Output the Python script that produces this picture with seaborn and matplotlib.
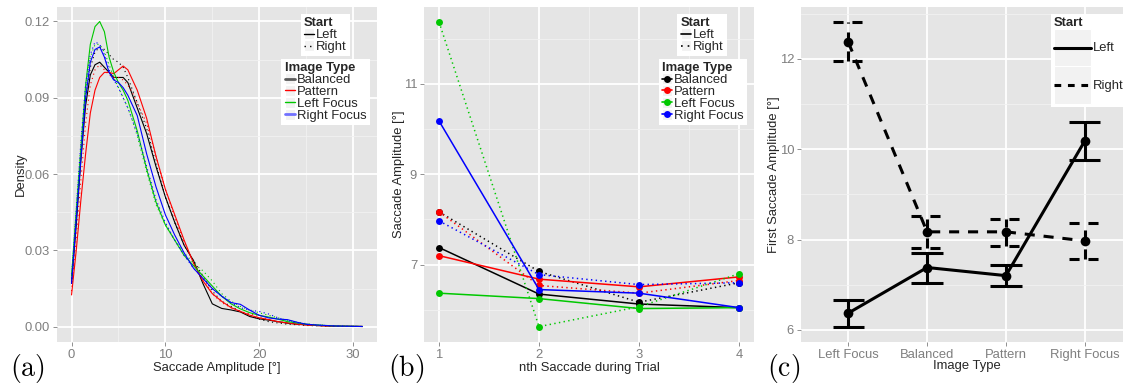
import numpy as np
import pandas as pd
import matplotlib
matplotlib.use("Agg")
import matplotlib.pyplot as plt
import seaborn as sns
from matplotlib.lines import Line2D
from matplotlib.patches import Rectangle
from matplotlib.legend_handler import HandlerTuple, HandlerLine2D

# ---------------- data ----------------
image_types = ["Balanced", "Pattern", "Left Focus", "Right Focus"]
starts = ["Left", "Right"]
palette = {"Balanced": "#000000", "Pattern": "#FF0000",
           "Left Focus": "#00C800", "Right Focus": "#0000FF"}

# (a) density of saccade amplitude, sampled along the amplitude axis
amp_grid = [0, 0.5, 1, 1.5, 2, 2.5, 3, 3.5, 4, 4.5, 5, 5.5, 6, 6.5, 7,
            8, 9, 10, 11, 12, 13, 14, 15, 16, 17, 18, 19, 20, 21, 22, 23, 24, 25, 26,
            28, 31]

dens_balanced_left = [0.017, 0.040, 0.066, 0.087, 0.099, 0.103, 0.104, 0.102, 0.100, 0.098, 0.098, 0.098, 0.096, 0.091, 0.086,
                      0.076, 0.063, 0.051, 0.041, 0.032, 0.026, 0.017, 0.009, 0.0072, 0.0066, 0.0058, 0.0040, 0.0031, 0.0026, 0.0020, 0.0014, 0.0010, 0.0008, 0.0005,
                      0.0002, 0.0001]
dens_pattern_left = [0.0125, 0.030, 0.050, 0.068, 0.084, 0.093, 0.098, 0.100, 0.100, 0.0995, 0.101, 0.1025, 0.101, 0.097, 0.093,
                     0.082, 0.067, 0.054, 0.044, 0.034, 0.025, 0.018, 0.013, 0.010, 0.0075, 0.006, 0.0045, 0.0035, 0.0028, 0.0020, 0.0015, 0.0010, 0.0007, 0.0005,
                     0.0002, 0.0001]
dens_leftfocus_left = [0.020, 0.045, 0.070, 0.095, 0.111, 0.118, 0.120, 0.116, 0.106, 0.100, 0.096, 0.093, 0.089, 0.083, 0.077,
                       0.062, 0.049, 0.040, 0.034, 0.028, 0.024, 0.020, 0.016, 0.012, 0.009, 0.007, 0.0055, 0.0045, 0.0038, 0.0030, 0.0020, 0.0015, 0.0010, 0.0007,
                       0.0003, 0.0001]
dens_rightfocus_left = [0.017, 0.042, 0.066, 0.090, 0.104, 0.109, 0.110, 0.106, 0.100, 0.097, 0.096, 0.094, 0.091, 0.087, 0.083,
                        0.068, 0.055, 0.044, 0.036, 0.029, 0.023, 0.019, 0.015, 0.012, 0.0095, 0.0088, 0.0065, 0.0045, 0.0035, 0.0030, 0.0028, 0.0018, 0.0010, 0.0007,
                        0.0003, 0.0001]
dens_balanced_right = [0.017, 0.042, 0.068, 0.090, 0.102, 0.108, 0.110, 0.109, 0.107, 0.105, 0.104, 0.102, 0.098, 0.093, 0.088,
                       0.078, 0.064, 0.051, 0.041, 0.032, 0.026, 0.020, 0.014, 0.010, 0.008, 0.006, 0.0045, 0.0030, 0.0020, 0.0015, 0.0010, 0.0008, 0.0005, 0.0004,
                       0.0002, 0.0001]
dens_pattern_right = [0.014, 0.035, 0.058, 0.080, 0.095, 0.101, 0.103, 0.101, 0.099, 0.098, 0.098, 0.097, 0.095, 0.092, 0.088,
                      0.080, 0.067, 0.054, 0.043, 0.033, 0.025, 0.019, 0.013, 0.0095, 0.0075, 0.006, 0.005, 0.004, 0.003, 0.002, 0.0015, 0.001, 0.0007, 0.0005,
                      0.0002, 0.0001]
dens_leftfocus_right = [0.020, 0.046, 0.072, 0.093, 0.106, 0.111, 0.111, 0.108, 0.103, 0.098, 0.094, 0.090, 0.086, 0.081, 0.075,
                        0.061, 0.048, 0.040, 0.034, 0.029, 0.025, 0.022, 0.018, 0.013, 0.010, 0.008, 0.0065, 0.0055, 0.0045, 0.0035, 0.0025, 0.0018, 0.0012, 0.0008,
                        0.0003, 0.0001]
dens_rightfocus_right = [0.019, 0.046, 0.073, 0.095, 0.107, 0.112, 0.111, 0.107, 0.101, 0.097, 0.094, 0.090, 0.086, 0.081, 0.076,
                         0.063, 0.050, 0.041, 0.034, 0.028, 0.023, 0.019, 0.015, 0.012, 0.0095, 0.0075, 0.0065, 0.0060, 0.0050, 0.0035, 0.0025, 0.0015, 0.0010, 0.0007,
                         0.0003, 0.0001]

# (b) mean saccade amplitude for the nth saccade of a trial
nth = [1, 2, 3, 4]
sacc_balanced_left = [7.38, 6.35, 6.13, 6.05]
sacc_pattern_left = [7.20, 6.68, 6.51, 6.73]
sacc_leftfocus_left = [6.37, 6.25, 6.03, 6.05]
sacc_rightfocus_left = [10.18, 6.45, 6.37, 6.05]
sacc_balanced_right = [8.17, 6.85, 6.17, 6.60]
sacc_pattern_right = [8.17, 6.54, 6.37, 6.65]
sacc_leftfocus_right = [12.37, 5.63, 6.07, 6.80]
sacc_rightfocus_right = [7.97, 6.78, 6.56, 6.60]

# (c) first saccade amplitude with error bars
c_types = ["Left Focus", "Balanced", "Pattern", "Right Focus"]
first_left_lo = [6.07, 7.04, 6.97, 9.76]
first_left_hi = [6.66, 7.71, 7.44, 10.60]
first_right_lo = [11.95, 7.81, 7.86, 7.56]
first_right_hi = [12.81, 8.52, 8.45, 8.36]

# ---------------- tidy tables ----------------
dens = {("Balanced", "Left"): dens_balanced_left, ("Pattern", "Left"): dens_pattern_left,
        ("Left Focus", "Left"): dens_leftfocus_left, ("Right Focus", "Left"): dens_rightfocus_left,
        ("Balanced", "Right"): dens_balanced_right, ("Pattern", "Right"): dens_pattern_right,
        ("Left Focus", "Right"): dens_leftfocus_right, ("Right Focus", "Right"): dens_rightfocus_right}
sacc = {("Balanced", "Left"): sacc_balanced_left, ("Pattern", "Left"): sacc_pattern_left,
        ("Left Focus", "Left"): sacc_leftfocus_left, ("Right Focus", "Left"): sacc_rightfocus_left,
        ("Balanced", "Right"): sacc_balanced_right, ("Pattern", "Right"): sacc_pattern_right,
        ("Left Focus", "Right"): sacc_leftfocus_right, ("Right Focus", "Right"): sacc_rightfocus_right}

rows_a, rows_b = [], []
for (it, st), ys in dens.items():
    for x, y in zip(amp_grid, ys):
        rows_a.append({"amp": x, "density": y, "Image Type": it, "Start": st})
for (it, st), ys in sacc.items():
    for x, y in zip(nth, ys):
        rows_b.append({"nth": x, "amp": y, "Image Type": it, "Start": st})
df_a = pd.DataFrame(rows_a)
df_b = pd.DataFrame(rows_b)

rows_c = []
for st, lo, hi in [("Left", first_left_lo, first_left_hi), ("Right", first_right_lo, first_right_hi)]:
    for i, it in enumerate(c_types):
        rows_c.append({"pos": i, "Image Type": it, "Start": st,
                       "mean": sacc[(it, st)][0], "lo": lo[i], "hi": hi[i]})
df_c = pd.DataFrame(rows_c)

# ---------------- style ----------------
sns.set_theme(style="darkgrid")
plt.rcParams["font.family"] = ["Liberation Sans", "DejaVu Sans"]
plt.rcParams["mathtext.fontset"] = "cm"

FS = 9.4
PANEL_BG = "#E5E5E5"
MINOR = "#F2F2F2"
TICKC = "#7F7F7F"

W, H = 1123, 385
fig = plt.figure(figsize=(W / 100, H / 100), dpi=100)
fig.patch.set_facecolor("white")


def px_axes(left, right, top, bottom):
    return fig.add_axes([left / W, (H - bottom) / H, (right - left) / W, (bottom - top) / H])


def style_axes(ax, xmaj, xmin, ymaj, ymin):
    ax.set_facecolor(PANEL_BG)
    for s in ax.spines.values():
        s.set_visible(False)
    ax.set_xticks(xmaj)
    ax.set_yticks(ymaj)
    ax.set_xticks(xmin, minor=True)
    ax.set_yticks(ymin, minor=True)
    ax.grid(False)
    ax.grid(which="major", color="white", lw=1.3)
    ax.grid(which="minor", color=MINOR, lw=0.6)
    ax.set_axisbelow(True)
    ax.tick_params(which="major", length=3, width=0.6, color=TICKC,
                   labelcolor=TICKC, labelsize=FS, pad=2,
                   bottom=True, left=True)
    ax.tick_params(which="minor", length=0)


class CenteredLine(HandlerLine2D):
    """Legend line drawn through the middle of its key box."""

    def create_artists(self, legend, orig_handle, xdescent, ydescent,
                       width, height, fontsize, trans):
        artists = super().create_artists(legend, orig_handle, xdescent, ydescent,
                                         width, height, fontsize, trans)
        for a in artists:
            if isinstance(a, Line2D):
                a.set_ydata(np.full(len(a.get_xdata()), height / 2 - ydescent))
        return artists


def keyed(handle):
    bg = Rectangle((0, 0), 1, 1, facecolor=MINOR, edgecolor="white", lw=0.8)
    return (bg, handle)


def legend(ax, title, handles, labels, anchor, loc, hl, hh, spacing=-0.08):
    lg = ax.legend([keyed(h) for h in handles], labels, title=title,
                   handler_map={tuple: HandlerTuple(ndivide=1, pad=0),
                                Line2D: CenteredLine()},
                   loc=loc, bbox_to_anchor=anchor, bbox_transform=ax.transAxes,
                   frameon=True, fancybox=False, framealpha=1,
                   facecolor="white", edgecolor="none",
                   prop={"size": FS}, title_fontproperties={"size": FS, "weight": "bold"},
                   handlelength=hl, handleheight=hh, handletextpad=0.15,
                   labelspacing=spacing, borderpad=0.25, borderaxespad=0,
                   alignment="left")
    ax.add_artist(lg)
    return lg


# ---------------- (a) ----------------
ax_a = px_axes(57, 377, 7, 342)
sns.lineplot(data=df_a, x="amp", y="density", hue="Image Type", style="Start",
             hue_order=image_types, style_order=starts, palette=palette,
             dashes={"Left": "", "Right": (1, 3)}, lw=0.8, sort=False,
             estimator=None, legend=False, ax=ax_a)
ax_a.set_xlim(-1.55, 32.55)
ax_a.set_ylim(-0.006, 0.1257)
style_axes(ax_a, [0, 10, 20, 30], [5, 15, 25],
           [0.00, 0.03, 0.06, 0.09, 0.12], [0.015, 0.045, 0.075, 0.105])
ax_a.yaxis.set_major_formatter(matplotlib.ticker.FormatStrFormatter("%.2f"))
ax_a.set_xlabel("Saccade Amplitude [°]", fontsize=FS, labelpad=1)
ax_a.set_ylabel("Density", fontsize=FS, labelpad=-1.5)

legend(ax_a, "Start",
       [Line2D([], [], color="black", lw=1.0),
        Line2D([], [], color="black", lw=1.0, ls=(0, (1, 3)))],
       starts, (0.916, 0.979), "upper right", 0.8, 0.9)
key_cols_a = {"Balanced": ("#5A5A5A", 2.0), "Pattern": ("#FF0000", 1.0),
              "Left Focus": ("#00C800", 1.0), "Right Focus": ("#7070FF", 2.0)}
legend(ax_a, "Image Type",
       [Line2D([], [], color=key_cols_a[t][0], lw=key_cols_a[t][1]) for t in image_types],
       image_types, (0.978, 0.845), "upper right", 0.8, 0.9)

# ---------------- (b) ----------------
ax_b = px_axes(424, 754, 7, 342)
sns.lineplot(data=df_b, x="nth", y="amp", hue="Image Type", style="Start",
             hue_order=image_types, style_order=starts, palette=palette,
             dashes={"Left": "", "Right": (0.9, 2.2)},
             markers={"Left": "o", "Right": "o"}, markersize=5, markeredgewidth=0,
             lw=1.1, estimator=None, legend=False, ax=ax_b)
ax_b.set_xlim(0.85, 4.15)
ax_b.set_ylim(5.29, 12.70)
style_axes(ax_b, [1, 2, 3, 4], [1.5, 2.5, 3.5], [7, 9, 11], [6, 8, 10, 12])
ax_b.set_xlabel("nth Saccade during Trial", fontsize=FS, labelpad=1)
ax_b.set_ylabel("Saccade Amplitude [°]", fontsize=FS, labelpad=-1)

legend(ax_b, "Start",
       [Line2D([], [], color="black", lw=1.2),
        Line2D([], [], color="black", lw=1.2, ls=(0, (1, 3)))],
       starts, (0.918, 0.979), "upper right", 0.8, 0.9)
legend(ax_b, "Image Type",
       [Line2D([], [], color=palette[t], lw=1.2, marker="o", ms=5, mew=0) for t in image_types],
       image_types, (0.979, 0.845), "upper right", 0.8, 0.9)

# ---------------- (c) ----------------
ax_c = px_axes(801, 1132, 7, 342)
c_dash = (3.3, 2.9)
sns.lineplot(data=df_c, x="pos", y="mean", style="Start", style_order=starts,
             color="black", dashes={"Left": "", "Right": c_dash},
             markers={"Left": "o", "Right": "o"}, markersize=7, markeredgewidth=0,
             lw=2.2, estimator=None, legend=False, ax=ax_c)
cap = 0.2
for st, ls in [("Left", "-"), ("Right", (0, c_dash))]:
    sub = df_c[df_c["Start"] == st]
    lw = 2.2
    ax_c.vlines(sub["pos"], sub["lo"], sub["hi"], colors="black", lw=lw, linestyles=[ls])
    ax_c.hlines(sub["lo"], sub["pos"] - cap, sub["pos"] + cap, colors="black", lw=lw, linestyles=[ls])
    ax_c.hlines(sub["hi"], sub["pos"] - cap, sub["pos"] + cap, colors="black", lw=lw, linestyles=[ls])
ax_c.set_xlim(-0.6, 3.6)
ax_c.set_ylim(5.73, 13.15)
style_axes(ax_c, [0, 1, 2, 3], [], [6, 8, 10, 12], [7, 9, 11, 13])
ax_c.set_xticklabels(c_types)
ax_c.set_xlabel("Image Type", fontsize=FS, labelpad=-1)
ax_c.set_ylabel("First Saccade Amplitude [°]", fontsize=FS, labelpad=-0.5)

legend(ax_c, "Start",
       [Line2D([], [], color="black", lw=2.2),
        Line2D([], [], color="black", lw=2.2, ls=(0, (2.2, 2.2)))],
       starts, (0.755, 0.979), "upper left", 2.8, 4.0, spacing=0.0)

# ---------------- panel labels ----------------
for lab, x in [("(a)", 10), ("(b)", 388), ("(c)", 767)]:
    fig.text(x / W, (H - 376) / H, r"$\mathrm{%s}$" % lab, fontsize=20,
             ha="left", va="baseline", color="black")

fig.savefig("out.png", dpi=100, facecolor="white")
